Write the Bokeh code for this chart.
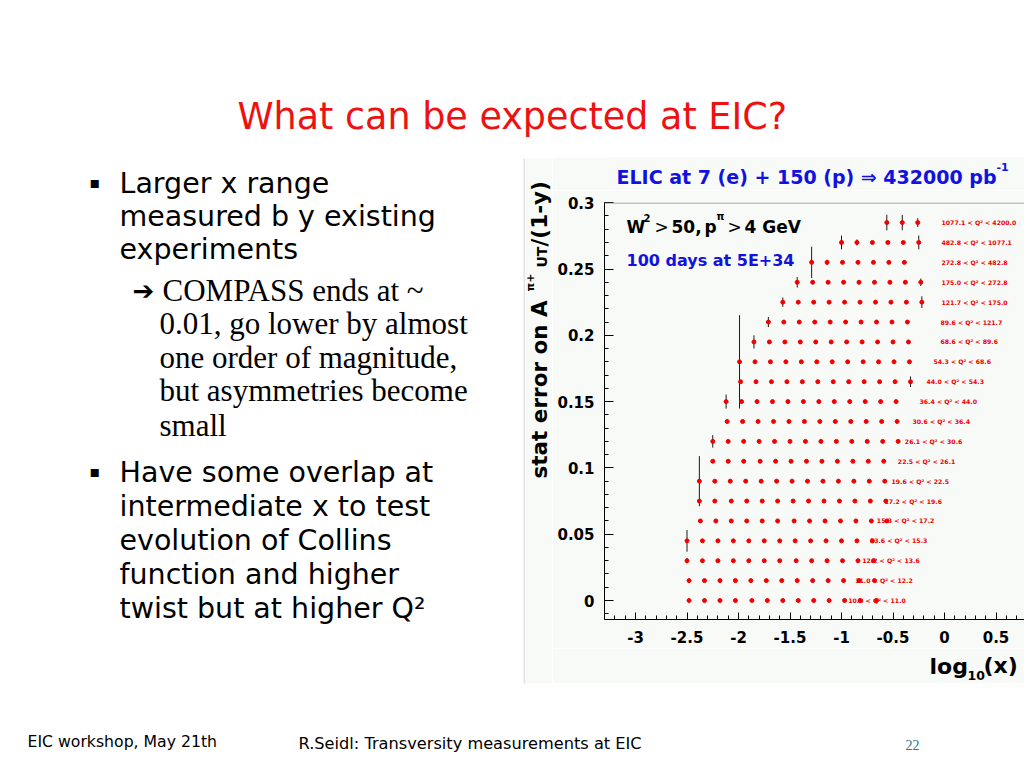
import math
from bokeh.plotting import figure
from bokeh.layouts import row, column
from bokeh.models import (ColumnDataSource, Label, BoxAnnotation, Span, FixedTicker,
                          CustomJSTickFormatter, Range1d)
from bokeh.core.properties import value
from bokeh.embed import file_html
from bokeh.resources import INLINE

# ---------------- data ----------------
Q2_BINS = ["10.0 < Q² < 11.0", "11.0 < Q² < 12.2", "12.2 < Q² < 13.6", "13.6 < Q² < 15.3",
           "15.3 < Q² < 17.2", "17.2 < Q² < 19.6", "19.6 < Q² < 22.5", "22.5 < Q² < 26.1",
           "26.1 < Q² < 30.6", "30.6 < Q² < 36.4", "36.4 < Q² < 44.0", "44.0 < Q² < 54.3",
           "54.3 < Q² < 68.6", "68.6 < Q² < 89.6", "89.6 < Q² < 121.7", "121.7 < Q² < 175.0",
           "175.0 < Q² < 272.8", "272.8 < Q² < 482.8", "482.8 < Q² < 1077.1", "1077.1 < Q² < 4200.0"]

ROW_OFFSET = [0.0, 0.015, 0.03, 0.045, 0.06, 0.075, 0.09, 0.105, 0.12, 0.135,
              0.15, 0.165, 0.18, 0.195, 0.21, 0.225, 0.24, 0.255, 0.27, 0.285]

LOGX = [
    [-2.48, -2.33, -2.18, -2.03, -1.87, -1.72, -1.57, -1.42, -1.27, -1.12, -0.97, -0.82, -0.66],
    [-2.48, -2.33, -2.18, -2.03, -1.88, -1.73, -1.58, -1.43, -1.28, -1.13, -0.98, -0.83, -0.68],
    [-2.50, -2.35, -2.20, -2.05, -1.90, -1.75, -1.60, -1.44, -1.29, -1.14, -0.99, -0.84, -0.69],
    [-2.50, -2.35, -2.20, -2.05, -1.90, -1.75, -1.60, -1.45, -1.30, -1.15, -1.00, -0.85, -0.70],
    [-2.37, -2.22, -2.07, -1.92, -1.77, -1.62, -1.46, -1.31, -1.16, -1.01, -0.86, -0.71, -0.56],
    [-2.38, -2.23, -2.07, -1.92, -1.77, -1.62, -1.47, -1.32, -1.17, -1.02, -0.87, -0.72, -0.57],
    [-2.38, -2.23, -2.08, -1.93, -1.78, -1.63, -1.48, -1.33, -1.18, -1.03, -0.88, -0.73, -0.58],
    [-2.25, -2.10, -1.95, -1.79, -1.64, -1.49, -1.34, -1.19, -1.04, -0.89, -0.74, -0.59],
    [-2.25, -2.10, -1.95, -1.80, -1.65, -1.50, -1.35, -1.20, -1.05, -0.90, -0.75, -0.60, -0.45],
    [-2.11, -1.96, -1.81, -1.66, -1.51, -1.36, -1.21, -1.06, -0.91, -0.76, -0.61, -0.46],
    [-2.12, -1.97, -1.82, -1.67, -1.52, -1.37, -1.22, -1.07, -0.92, -0.77, -0.62, -0.47],
    [-1.98, -1.83, -1.68, -1.53, -1.38, -1.23, -1.08, -0.93, -0.78, -0.63, -0.48, -0.33],
    [-1.99, -1.84, -1.69, -1.54, -1.39, -1.24, -1.09, -0.94, -0.79, -0.64, -0.49, -0.34],
    [-1.85, -1.70, -1.55, -1.40, -1.25, -1.10, -0.95, -0.80, -0.65, -0.50, -0.35],
    [-1.71, -1.56, -1.41, -1.26, -1.11, -0.96, -0.81, -0.66, -0.51, -0.36],
    [-1.57, -1.42, -1.27, -1.12, -0.97, -0.82, -0.67, -0.52, -0.37, -0.22],
    [-1.43, -1.28, -1.13, -0.98, -0.83, -0.68, -0.53, -0.38, -0.23],
    [-1.29, -1.14, -0.99, -0.84, -0.69, -0.54, -0.39],
    [-1.00, -0.85, -0.70, -0.55, -0.40, -0.25],
    [-0.56, -0.41, -0.26],
]

STAT_ERR = [
    [0.001, 0.001, 0.001, 0.001, 0.001, 0.001, 0.001, 0.001, 0.001, 0.001, 0.001, 0.001, 0.001],
    [0.001, 0.001, 0.001, 0.001, 0.001, 0.001, 0.001, 0.001, 0.001, 0.001, 0.001, 0.001, 0.001],
    [0.002, 0.001, 0.001, 0.001, 0.001, 0.001, 0.001, 0.001, 0.001, 0.001, 0.001, 0.001, 0.001],
    [0.0082, 0.001, 0.001, 0.001, 0.001, 0.001, 0.001, 0.001, 0.001, 0.001, 0.001, 0.001, 0.001],
    [0.0012, 0.001, 0.001, 0.001, 0.001, 0.001, 0.001, 0.001, 0.001, 0.001, 0.001, 0.001, 0.001],
    [0.0015, 0.001, 0.001, 0.001, 0.001, 0.001, 0.001, 0.001, 0.001, 0.001, 0.001, 0.001, 0.001],
    [0.0189, 0.001, 0.001, 0.001, 0.001, 0.001, 0.001, 0.001, 0.001, 0.001, 0.001, 0.001, 0.001],
    [0.0012, 0.001, 0.001, 0.001, 0.001, 0.001, 0.001, 0.001, 0.001, 0.001, 0.001, 0.001],
    [0.0047, 0.001, 0.001, 0.001, 0.001, 0.001, 0.001, 0.001, 0.001, 0.001, 0.001, 0.001, 0.001],
    [0.0012, 0.001, 0.001, 0.001, 0.001, 0.001, 0.001, 0.001, 0.001, 0.001, 0.001, 0.001],
    [0.0053, 0.001, 0.001, 0.001, 0.001, 0.001, 0.001, 0.001, 0.001, 0.001, 0.001, 0.001],
    [0.001, 0.001, 0.001, 0.001, 0.001, 0.001, 0.001, 0.001, 0.001, 0.001, 0.001, 0.004],
    [0.0352, 0.001, 0.001, 0.001, 0.001, 0.001, 0.001, 0.001, 0.001, 0.001, 0.001, 0.001],
    [0.005, 0.001, 0.001, 0.001, 0.001, 0.001, 0.001, 0.001, 0.001, 0.001, 0.001],
    [0.0038, 0.001, 0.001, 0.001, 0.001, 0.001, 0.001, 0.001, 0.001, 0.001],
    [0.0035, 0.001, 0.001, 0.001, 0.001, 0.001, 0.001, 0.001, 0.001, 0.0044],
    [0.004, 0.001, 0.001, 0.001, 0.001, 0.001, 0.001, 0.001, 0.0028],
    [0.0118, 0.002, 0.001, 0.001, 0.001, 0.001, 0.001],
    [0.0052, 0.0023, 0.001, 0.001, 0.001, 0.0052],
    [0.0059, 0.0058, 0.0033],
]

# left edge (log10 x) of each Q² bin label
LABEL_X = [-0.935, -0.867, -0.799, -0.725, -0.657, -0.583, -0.515, -0.453, -0.385, -0.311,
           -0.243, -0.175, -0.107, -0.039, -0.039, -0.029, -0.029, -0.029, -0.029, -0.029]

X_TICKS = [-3, -2.5, -2, -1.5, -1, -0.5, 0, 0.5]
Y_TICKS = [0, 0.05, 0.1, 0.15, 0.2, 0.25, 0.3]

# ---------------- page geometry (pixels) ----------------
PX_PER_X, X_ZERO_PX = 103.0, 944.0
PX_PER_Y, Y_ZERO_PX = 1326.0, 600.0


def dx(px):
    return (px - X_ZERO_PX) / PX_PER_X


def dy(py):
    return (Y_ZERO_PX - py) / PX_PER_Y


ROOT_BG = "#f7faf7"
ROOT_EDGE = "#c8c8c8"
BLUE = "#1212e0"
RED = "#ee1111"
SANS = "DejaVu Sans"
SERIF = "Liberation Serif"


def strip(x0, x1, y0, y1, bg="white", border_left=0, border_bg=None):
    f = figure(width=x1 - x0 + border_left, height=y1 - y0, x_range=Range1d(x0, x1),
               y_range=Range1d(y1, y0), x_axis_type=None, y_axis_type=None,
               toolbar_location=None, title=None, output_backend="svg", min_border=0,
               min_border_left=border_left, outline_line_color=None,
               background_fill_color=bg, border_fill_color=border_bg or bg)
    f.grid.visible = False
    return f


def put(f, text, x, y, size, color="black", font=SANS, style="bold", angle=0.0, align="left"):
    f.add_layout(Label(x=x, y=y, text=text, text_font=font, text_font_style=style,
                       text_font_size=size, text_color=color, angle=angle,
                       text_align=align, text_baseline="middle"))


# ---------------- the chart ----------------
CX0, CY0, CY1 = 552, 190, 648
FL, FT, FB = 604, 202, 619
p = figure(width=1024 - CX0, height=CY1 - CY0, output_backend="svg", toolbar_location=None,
           title=None, x_range=Range1d(dx(FL), dx(1024)), y_range=Range1d(dy(FB), dy(FT)),
           min_border_left=FL - CX0, min_border_right=0, min_border_top=FT - CY0,
           min_border_bottom=CY1 - FB)
p.grid.visible = False
p.outline_line_color = None
p.border_fill_color = ROOT_BG
p.background_fill_color = ROOT_BG
p.add_layout(Span(location=dy(FT + 0.5), dimension="width", line_color="#8c8c8c", line_width=1))

fmt = CustomJSTickFormatter(code="return String(Math.round(tick*1000)/1000);")
p.xaxis.ticker = FixedTicker(ticks=X_TICKS, minor_ticks=[round(-3.3 + 0.1 * i, 1) for i in range(42)])
p.yaxis.ticker = FixedTicker(ticks=Y_TICKS, minor_ticks=[round(-0.01 + 0.01 * i, 2) for i in range(32)])
for ax in (p.xaxis[0], p.yaxis[0]):
    ax.formatter = fmt
    ax.axis_line_color = "black"
    ax.major_tick_line_color = "black"
    ax.minor_tick_line_color = "black"
    ax.major_tick_out = 0
    ax.minor_tick_out = 0
    ax.minor_tick_in = 4
    ax.major_label_text_font = SANS
    ax.major_label_text_font_style = "bold"
    ax.major_label_text_font_size = "15px"
    ax.major_label_text_color = "black"
p.yaxis.major_tick_in = 9
p.xaxis.major_tick_in = 7
p.yaxis.major_label_standoff = 10
p.xaxis.major_label_standoff = 11

xs, ys, lo, hi = [], [], [], []
for off, row_x, row_e in zip(ROW_OFFSET, LOGX, STAT_ERR):
    for xv, ev in zip(row_x, row_e):
        xs.append(xv)
        ys.append(off)
        lo.append(off - ev)
        hi.append(off + ev)
src = ColumnDataSource(dict(x=xs, y=ys, lo=lo, hi=hi))
p.segment(x0="x", y0="lo", x1="x", y1="hi", source=src, line_color="#1a1a1a", line_width=1)
p.scatter(x="x", y="y", source=src, marker="circle", size=4,
          fill_color="#f00000", line_color="#f00000")

lab_src = ColumnDataSource(dict(x=LABEL_X, y=ROW_OFFSET, text=Q2_BINS))
p.text(x="x", y="y", text="text", source=lab_src, text_font=value(SANS),
       text_font_style="bold", text_font_size="6.2px", text_color="#f00000",
       text_baseline="middle", text_align="left")


def cput(text, rx, ry, size, color="black", style="bold"):
    put(p, text, dx(rx), dy(ry), size, color, SANS, style)


cput("W", 626, 226, "17px")
cput("2", 643, 217, "10px")
cput(">", 654, 226, "17px", style="normal")
cput("50,", 671, 226, "17px")
cput("p", 704, 226, "17px")
cput("π", 716, 216, "10px")
cput(">", 727, 226, "17px", style="normal")
cput("4 GeV", 744, 226, "17px")
cput("100 days at 5E+34", 626, 260, "16px", BLUE)

# strips above and below the chart frame (their frames line up with the chart frame)
top = strip(FL, 1024, 157, CY0, ROOT_BG, FL - CX0, ROOT_BG)
put(top, "ELIC at 7 (e) + 150 (p) ⇒ 432000 pb", 616, 176, "19px", BLUE)
put(top, "-1", 996, 166, "11px", BLUE)

bottom = strip(FL, 1024, CY1, 683, ROOT_BG, FL - CX0, ROOT_BG)
put(bottom, "log", 929, 666, "22px")
put(bottom, "10", 967, 675, "12.5px")
put(bottom, "(x)", 983, 665, "22px")

left = strip(523, CX0, 157, 687)
left.add_layout(BoxAnnotation(left=524, right=CX0, top=158, bottom=683, fill_color=ROOT_BG,
                              fill_alpha=1.0, line_color=None, level="underlay"))
left.segment(x0=[523.5], y0=[158], x1=[523.5], y1=[683], line_color=ROOT_EDGE, line_width=1)
put(left, "stat error on A", 539, 478, "21.5px", angle=math.pi / 2)
put(left, "π+", 530, 291, "11px", angle=math.pi / 2)
put(left, "UT", 541, 267, "14px", angle=math.pi / 2)
put(left, "/(1-y)", 539, 246, "21.5px", angle=math.pi / 2)

chart_col = column(top, p, bottom, spacing=0)

# ---------------- slide texts ----------------
title = strip(0, 1024, 0, 157)
put(title, "What can be expected at EIC?", 237, 116, "36.5px", RED, SANS, "normal")

body = strip(0, 523, 157, 687)
bul = [("Larger x range", 183), ("measured b y existing", 216), ("experiments", 249),
       ("Have some overlap at", 472), ("intermediate x to test", 506), ("evolution of Collins", 540),
       ("function and higher", 574), ("twist but at higher Q²", 608)]
for t, cy in bul:
    put(body, t, 119, cy, "28.5px", "black", SANS, "normal")
for cy in (182, 471):
    put(body, "▪", 89, cy, "16px", "black", SANS, "normal")
put(body, "➔", 132, 290, "26px", "black", SANS, "normal")
ser = [("COMPASS ends at ~", 162, 290), ("0.01, go lower by almost", 159, 323),
       ("one order  of magnitude,", 159, 357), ("but asymmetries become", 159, 390),
       ("small", 159, 425)]
for t, sx, cy in ser:
    put(body, t, sx, cy, "31px", "black", SERIF, "normal")

foot = strip(0, 1024, 687, 768)
put(foot, "EIC workshop, May 21th", 27, 741, "15.7px", "black", SANS, "normal")
put(foot, "R.Seidl: Transversity measurements at EIC", 298, 743, "16.2px", "black", SANS, "normal")
put(foot, "22", 905, 744, "14px", "#2d6f8c", SERIF, "normal")

page = column(title, row(body, left, chart_col, spacing=0), foot, spacing=0)

open("out.html", "w").write(file_html(page, INLINE))
